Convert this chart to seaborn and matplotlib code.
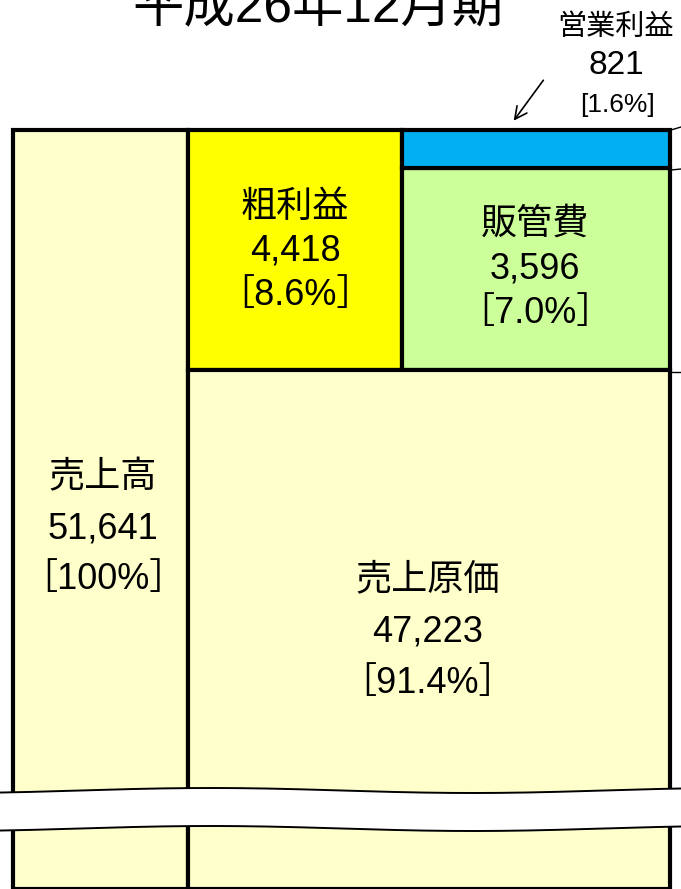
import numpy as np
import matplotlib
matplotlib.use("Agg")
import matplotlib.pyplot as plt
import seaborn as sns
import pandas as pd

sns.set_theme(style="white")
plt.rcParams['font.family'] = ['Liberation Sans', 'Noto Sans CJK JP', 'DejaVu Sans']
plt.rcParams['text.color'] = 'black'

# ---- data ----
title = "平成26年12月期"
items = ["売上高", "粗利益", "販管費", "営業利益", "売上原価"]
amounts = [51641, 4418, 3596, 821, 47223]
shares = ["100%", "8.6%", "7.0%", "1.6%", "91.4%"]

# ---- layout (pixel-like coordinates, y downward) ----
W, H = 681, 889
boxes = {  # x0, x1, y0, y1
    "売上高": (13, 188, 130, 889),
    "粗利益": (188, 402, 130, 370),
    "営業利益": (402, 670, 130, 168),
    "販管費": (402, 670, 168, 370),
    "売上原価": (188, 670, 370, 889),
}
colors = {
    "売上高": "#FFFFCC",
    "粗利益": "#FFFF00",
    "営業利益": "#00B0F0",
    "販管費": "#CCFF99",
    "売上原価": "#FFFFCC",
}
label_pos = {  # center x, first line y, line spacing
    "売上高": (103, 478, 51),
    "粗利益": (295, 207, 44),
    "販管費": (535, 224, 45),
    "売上原価": (428, 580, 52),
}

fig = plt.figure(figsize=(W / 100, H / 100), dpi=100)
ax = fig.add_axes([0, 0, 1, 1])
ax.set_xlim(0, W)
ax.set_ylim(H, 0)
ax.axis("off")

df = pd.DataFrame({"item": items, "amount": amounts, "share": shares})
for _, r in df.iterrows():
    x0, x1, y0, y1 = boxes[r["item"]]
    ax.bar(x0, y1 - y0, width=x1 - x0, bottom=y0, align="edge",
           color=colors[r["item"]], edgecolor="black", linewidth=3, zorder=2)
    if r["item"] in label_pos:
        cx, cy, sp = label_pos[r["item"]]
        ax.text(cx, cy, r["item"], ha="center", va="center", fontsize=26, zorder=5)
        ax.text(cx, cy + sp, f"{r['amount']:,}", ha="center", va="center", fontsize=26, zorder=5)
        ax.text(cx, cy + 2 * sp, f"［{r['share']}］", ha="center", va="center", fontsize=26, zorder=5)

# operating profit annotation
op = df[df["item"] == "営業利益"].iloc[0]
ax.text(616, 27, op["item"], ha="center", va="center", fontsize=21)
ax.text(616, 66, f"{op['amount']:,}", ha="center", va="center", fontsize=24)
ax.text(617, 105, f"[{op['share']}]", ha="center", va="center", fontsize=19)
ax.annotate("", xy=(512, 123), xytext=(545, 78),
            arrowprops=dict(arrowstyle="->", color="black", lw=1.2, mutation_scale=22))

# small tick marks on the right edge
for yy, dy in [(130, -3), (170, -1), (372, 0)]:
    ax.plot([671, 681], [yy, yy + dy], color="black", lw=1.0, zorder=3)

# wavy break band
xs = np.linspace(0, W, 200)
wave = 2.5 * np.sin((xs - 80) / 681 * 2 * np.pi * 1.3 + np.pi) + 790.5
top = wave
bot = wave + 38
ax.fill_between(xs, top, bot, color="white", zorder=6, lw=0)
ax.plot(xs, top, color="black", lw=1.4, zorder=7)
ax.plot(xs, bot, color="black", lw=1.4, zorder=7)

# title (cut off at top)
ax.text(318, 22, title, ha="center", va="baseline", fontsize=37)

fig.savefig("out.png", dpi=100)
